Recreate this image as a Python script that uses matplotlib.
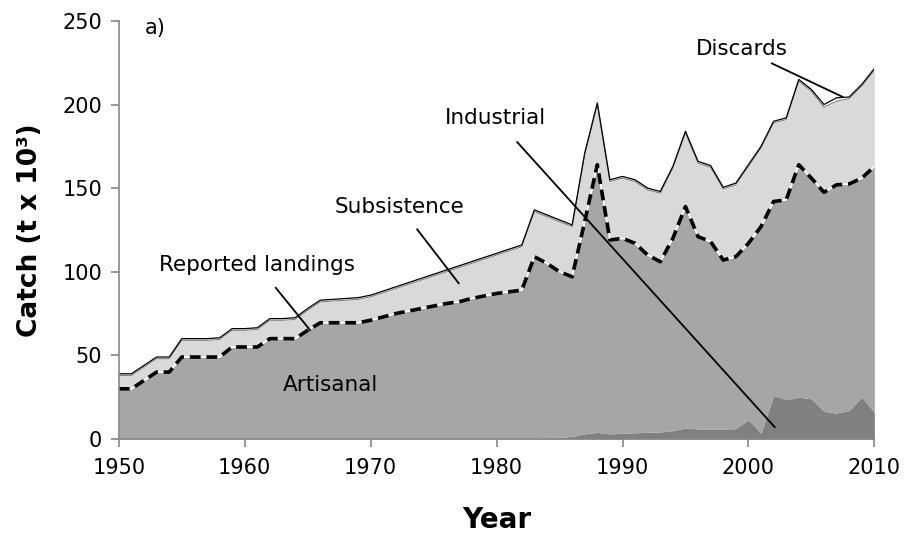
import numpy as np
import matplotlib
matplotlib.use("Agg")
import matplotlib.pyplot as plt

years = list(range(1950, 2011))

# top of the whole stack
total = [39, 39, 44, 49, 49, 60, 60, 60, 60.5, 66,
         66, 66.5, 72, 72, 72.5, 78, 83, 83.5, 84, 84.5,
         86, 88.5, 91, 93.5, 96, 98.5, 101, 103.5, 106, 108.5,
         111, 113.5, 116, 137, 134, 131, 128, 171, 201, 155,
         157, 155, 150, 148, 163, 184, 166, 163.5, 150.5, 153,
         164, 175, 190, 192, 215, 209, 200, 204, 204.5, 212,
         221.5]

# reported landings (dashed line)
reported = [30, 30, 35, 40, 40, 49, 49, 49, 49, 55,
            55, 55, 60, 60, 60, 65, 69.5, 69.5, 69.5, 69.5,
            71, 73, 75, 76.5, 78, 79.5, 81, 82, 84, 85.5,
            87, 88, 89, 109, 105, 100, 97, 130, 164, 119,
            120, 117, 110, 106, 120, 139, 121, 118, 107, 109,
            117, 127, 142, 143, 164, 156, 147.5, 152, 152.5, 156,
            163]

industrial = [0] * 33 + [0.3, 0.6, 1, 1.5, 3, 4, 3,
              3.5, 3.7, 4, 4.2, 5, 6.5, 6, 6, 6, 6.2,
              11.5, 3.5, 26, 23.5, 25, 24, 16.5, 15.5, 17, 25,
              16]

discards = [1] * 56 + [1.5, 2, 1, 1, 1]

x = np.array(years)
ind = np.array(industrial, dtype=float)
rep = np.array(reported, dtype=float)
tot = np.array(total, dtype=float)
dis = np.array(discards, dtype=float)
art = rep - ind
sub = tot - dis - rep

fig = plt.figure(figsize=(9.07, 5.36), dpi=100)
ax = fig.add_axes([0.131, 0.181, 0.833, 0.78])

ax.fill_between(x, 0, ind, color="#808080", lw=0)
ax.fill_between(x, ind, ind + art, color="#a6a6a6", lw=0)
ax.fill_between(x, rep, rep + sub, color="#d9d9d9", lw=0)
ax.plot(x, rep + sub, color="#808080", lw=0.8)
ax.fill_between(x, rep + sub, tot, color="white", lw=0)
ax.plot(x, tot, color="black", lw=0.9)

# reported landings: white line under black dashes
ax.plot(x, rep, color="white", lw=1.2)
ax.plot(x, rep, color="black", lw=2.6, dashes=(3.0, 1.6))

ax.set_xlim(1950, 2010)
ax.set_ylim(0, 250)
ax.set_xticks(range(1950, 2011, 10))
ax.set_yticks(range(0, 251, 50))

for s in ["top", "right"]:
    ax.spines[s].set_visible(False)
for s in ["left", "bottom"]:
    ax.spines[s].set_color("#868686")
    ax.spines[s].set_linewidth(1.2)
ax.tick_params(axis="both", colors="#868686", length=6, width=1.2,
               labelsize=15, labelcolor="black")
ax.tick_params(axis="y", pad=6)
ax.tick_params(axis="x", pad=8)

ax.set_ylabel("Catch (t x 10\u00b3)", fontsize=19, fontweight="bold", labelpad=14)
ax.set_xlabel("Year", fontsize=20, fontweight="bold", labelpad=20)

ax.text(1952.9, 246, "a)", fontsize=15, ha="center", va="center")
ax.text(1966.8, 32, "Artisanal", fontsize=15.5, ha="center", va="center")

ax.annotate("Reported landings", xy=(1965.2, 65), xytext=(1961, 104),
            fontsize=15.5, ha="center", va="center",
            arrowprops=dict(arrowstyle="-", color="black", lw=1.3,
                            shrinkA=9, shrinkB=0))
ax.annotate("Subsistence", xy=(1977, 93), xytext=(1972.3, 139),
            fontsize=15.5, ha="center", va="center",
            arrowprops=dict(arrowstyle="-", color="black", lw=1.3,
                            shrinkA=9, shrinkB=0))
ax.annotate("Industrial", xy=(2002.1, 7), xytext=(1979.9, 192),
            fontsize=15.5, ha="center", va="center",
            arrowprops=dict(arrowstyle="-", color="black", lw=1.3,
                            shrinkA=11, shrinkB=0))
ax.annotate("Discards", xy=(2007.5, 204.5), xytext=(1999.5, 233),
            fontsize=15.5, ha="center", va="center",
            arrowprops=dict(arrowstyle="-", color="black", lw=1.3,
                            shrinkA=2, shrinkB=0))

fig.savefig("out.png", dpi=100)
